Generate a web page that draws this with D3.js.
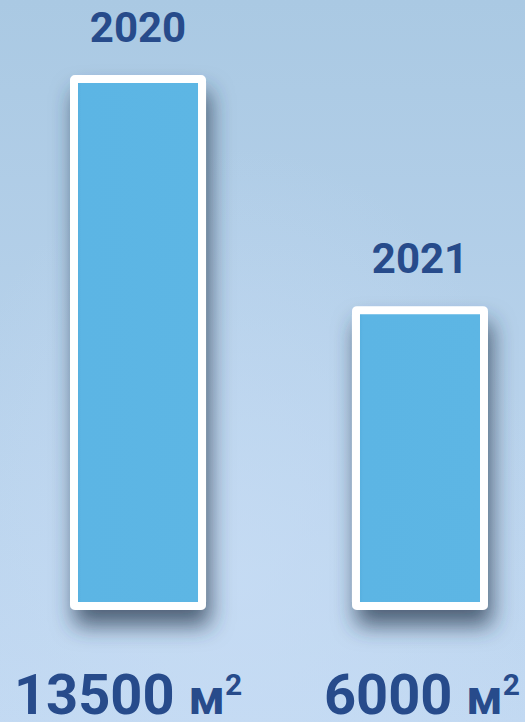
<!DOCTYPE html>
<html>
<head>
    <meta charset="UTF-8">
    <title>Area by year</title>
    <script src="https://d3js.org/d3.v7.min.js"></script>
    <style>
        body { margin: 0; }
        svg { display: block; }
    </style>
</head>
<body>
    <script>
        const years = ["2020", "2021"];
        const areas = [13500, 6000];
        const unit = "м";

        const width = 525, height = 722;
        const textColor = "#274b8b";

        const svg = d3.select("body").append("svg")
            .attr("width", width).attr("height", height);

        const defs = svg.append("defs");

        const bg = defs.append("linearGradient")
            .attr("id", "bg").attr("x1", 0).attr("y1", 0).attr("x2", 0).attr("y2", 1);
        bg.append("stop").attr("offset", "0%").attr("stop-color", "#aac9e3");
        bg.append("stop").attr("offset", "100%").attr("stop-color", "#c2d9f2");

        const glow = defs.append("radialGradient")
            .attr("id", "glow").attr("cx", 0.45).attr("cy", 0.8).attr("r", 0.6);
        glow.append("stop").attr("offset", "0%").attr("stop-color", "#c8ddf5").attr("stop-opacity", 0.7);
        glow.append("stop").attr("offset", "100%").attr("stop-color", "#c8ddf5").attr("stop-opacity", 0);

        const barFill = defs.append("linearGradient")
            .attr("id", "barFill").attr("x1", 0).attr("y1", 0).attr("x2", 1).attr("y2", 0);
        barFill.append("stop").attr("offset", "0%").attr("stop-color", "#54abdb");
        barFill.append("stop").attr("offset", "6%").attr("stop-color", "#5cb5e4");
        barFill.append("stop").attr("offset", "100%").attr("stop-color", "#5db6e4");

        const shadow = defs.append("filter").attr("id", "shadow")
            .attr("x", "-30%").attr("y", "-10%").attr("width", "160%").attr("height", "130%");
        shadow.append("feDropShadow")
            .attr("dx", 4).attr("dy", 16).attr("stdDeviation", 11)
            .attr("flood-color", "#2c3a50").attr("flood-opacity", 0.75);

        svg.append("rect").attr("width", width).attr("height", height).attr("fill", "url(#bg)");
        svg.append("rect").attr("width", width).attr("height", height).attr("fill", "url(#glow)");

        // bars: x by band, height by linear scale (baseline at 606)
        const x = d3.scaleBand()
            .domain(years)
            .range([74, 484])
            .paddingInner(0.546)
            .paddingOuter(0);

        const y = d3.scaleLinear()
            .domain([-3600, 13500])
            .range([606, 79]);

        const data = years.map((yr, i) => ({ year: yr, value: areas[i] }));

        svg.append("g")
            .selectAll("rect")
            .data(data).enter().append("rect")
            .attr("x", d => x(d.year))
            .attr("y", d => y(d.value))
            .attr("width", x.bandwidth())
            .attr("height", d => y(-3600) - y(d.value))
            .attr("rx", 1)
            .attr("fill", "url(#barFill)")
            .attr("stroke", "#ffffff")
            .attr("stroke-width", 8)
            .attr("filter", "url(#shadow)");

        // year labels above bars
        svg.append("g")
            .selectAll("text")
            .data(data).enter().append("text")
            .attr("x", d => x(d.year) + x.bandwidth() / 2)
            .attr("y", d => y(d.value) - 37)
            .attr("text-anchor", "middle")
            .attr("font-family", "Roboto, sans-serif")
            .attr("font-weight", 700)
            .attr("font-size", 42)
            .attr("fill", textColor)
            .text(d => d.year);

        // value labels at the bottom
        const shifts = [-10, 2];
        const vals = svg.append("g")
            .selectAll("text")
            .data(data).enter().append("text")
            .attr("x", (d, i) => x(d.year) + x.bandwidth() / 2 + shifts[i])
            .attr("y", 714)
            .attr("text-anchor", "middle")
            .attr("font-family", "Roboto, sans-serif")
            .attr("font-weight", 700)
            .attr("fill", textColor);

        vals.append("tspan").attr("font-size", 56).text(d => d.value + " ");
        vals.append("tspan").attr("font-size", 48).text(unit);
        vals.append("tspan").attr("font-size", 30).attr("dy", -19).text("2");
    </script>
</body>
</html>
